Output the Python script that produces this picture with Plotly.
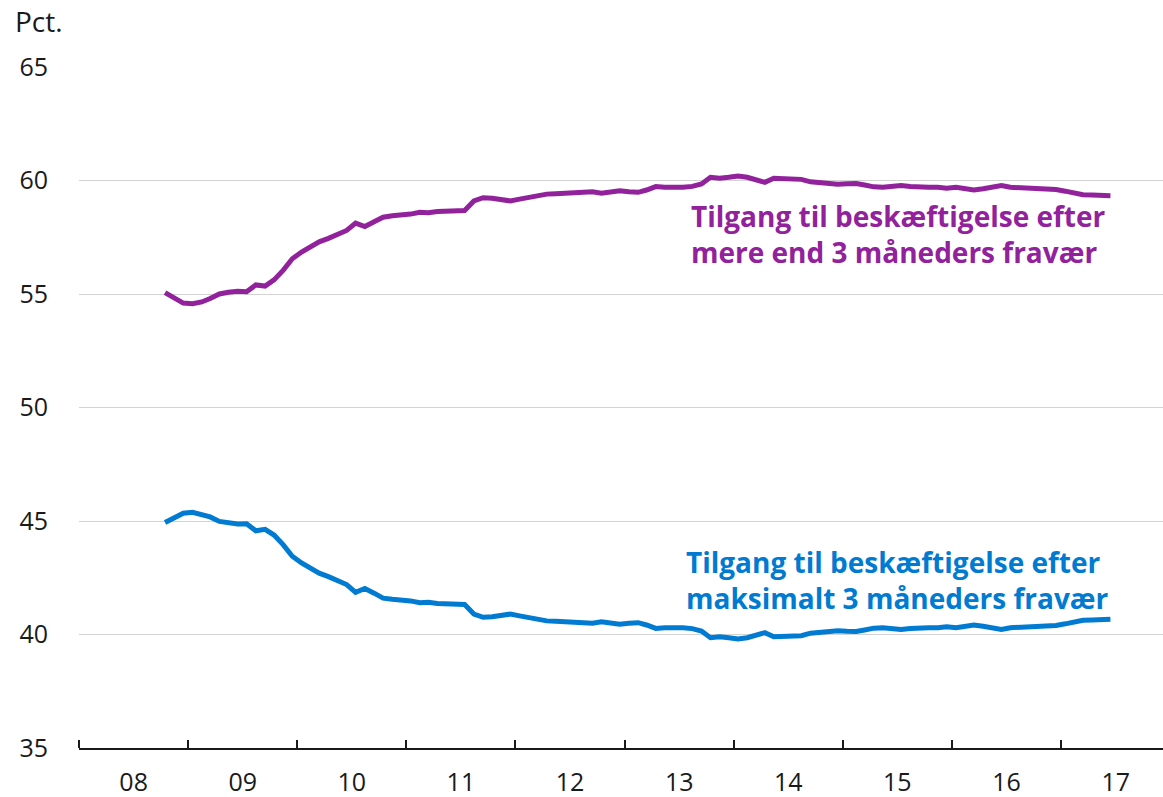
import pandas as pd
import plotly.graph_objects as go

start_month = "2008-10-01"

purple_vals = [
    55.06, 54.85, 54.60, 54.57, 54.65, 54.80, 55.00, 55.08, 55.12, 55.10,
    55.40, 55.35, 55.62, 56.05, 56.55, 56.85, 57.08, 57.30, 57.45, 57.60,
    57.80, 58.12, 57.97, 58.18, 58.38, 58.45, 58.48, 58.52, 58.60, 58.58,
    58.63, 58.65, 58.66, 58.68, 59.10, 59.24, 59.22, 59.16, 59.10, 59.18,
    59.25, 59.37, 59.40, 59.42, 59.44, 59.44, 59.45, 59.50, 59.44, 59.52,
    59.55, 59.50, 59.48, 59.58, 59.73, 59.70, 59.68, 59.70, 59.74, 59.85,
    60.14, 60.10, 60.14, 60.20, 60.14, 60.06, 59.92, 60.10, 60.08, 60.05,
    60.05, 59.94, 59.90, 59.86, 59.84, 59.86, 59.87, 59.80, 59.72, 59.70,
    59.75, 59.78, 59.74, 59.70, 59.70, 59.70, 59.66, 59.70, 59.63, 59.58,
    59.64, 59.70, 59.78, 59.70, 59.68, 59.70, 59.65, 59.62, 59.60, 59.53,
    59.45, 59.37, 59.36, 59.37, 59.33,
]

blue_vals = [
    44.93, 45.15, 45.34, 45.38, 45.30, 45.18, 44.98, 44.90, 44.87, 44.88,
    44.57, 44.63, 44.38, 43.95, 43.45, 43.15, 42.92, 42.70, 42.55, 42.40,
    42.20, 41.86, 42.03, 41.82, 41.60, 41.55, 41.52, 41.48, 41.40, 41.42,
    41.37, 41.35, 41.34, 41.32, 40.90, 40.76, 40.78, 40.84, 40.90, 40.82,
    40.75, 40.63, 40.60, 40.58, 40.56, 40.56, 40.55, 40.50, 40.56, 40.48,
    40.45, 40.50, 40.52, 40.42, 40.27, 40.30, 40.32, 40.30, 40.26, 40.15,
    39.86, 39.90, 39.86, 39.80, 39.86, 39.94, 40.08, 39.90, 39.92, 39.95,
    39.95, 40.06, 40.10, 40.14, 40.16, 40.14, 40.13, 40.20, 40.28, 40.30,
    40.25, 40.22, 40.26, 40.30, 40.30, 40.30, 40.34, 40.30, 40.37, 40.42,
    40.36, 40.30, 40.22, 40.30, 40.32, 40.30, 40.35, 40.38, 40.40, 40.47,
    40.55, 40.63, 40.64, 40.63, 40.67,
]

purple_label = "Tilgang til beskæftigelse efter<br>mere end 3 måneders fravær"
blue_label = "Tilgang til beskæftigelse efter<br>maksimalt 3 måneders fravær"
y_unit = "Pct."

dates = pd.date_range(start_month, periods=len(purple_vals), freq="MS") + pd.Timedelta(days=14)

PURPLE = "#92229c"
BLUE = "#007bd1"
FONT = "Open Sans"

fig = go.Figure()
fig.add_trace(go.Scatter(x=dates, y=purple_vals, mode="lines",
                         line=dict(color=PURPLE, width=5), showlegend=False))
fig.add_trace(go.Scatter(x=dates, y=blue_vals, mode="lines",
                         line=dict(color=BLUE, width=5), showlegend=False))

fig.add_annotation(text=purple_label, xref="paper", yref="y", x=0.5625, y=57.64,
                   xanchor="left", yanchor="middle", align="left", showarrow=False,
                   font=dict(family=FONT, size=28, color=PURPLE, weight="bold"))
fig.add_annotation(text=blue_label, xref="paper", yref="y", x=0.5585, y=42.40,
                   xanchor="left", yanchor="middle", align="left", showarrow=False,
                   font=dict(family=FONT, size=28, color=BLUE, weight="bold"))
fig.add_annotation(text=y_unit, xref="paper", yref="paper", x=0, y=1,
                   xshift=-66, yshift=46, xanchor="left", yanchor="middle",
                   showarrow=False, font=dict(family=FONT, size=28, color="#1a1a1a"))

fig.update_layout(
    width=1163, height=797,
    margin=dict(l=79, r=0, t=67, b=49),
    plot_bgcolor="white", paper_bgcolor="white",
    font=dict(family=FONT, size=25, color="#1a1a1a"),
)
fig.update_xaxes(
    range=["2008-01-01", "2017-12-08"], automargin=False,
    dtick="M12", tick0="2008-01-01", tickformat="%y", ticklabelmode="period",
    ticks="inside", ticklen=8, tickwidth=1.5, tickcolor="#1a1a1a",
    showline=True, linecolor="#1a1a1a", linewidth=1.5,
    showgrid=False, zeroline=False, ticklabelstandoff=11,
)
fig.update_yaxes(
    range=[35, 65], dtick=5, tick0=35, automargin=False,
    showgrid=True, gridcolor="#d3d3d3", gridwidth=1,
    zeroline=False, showline=False, ticks="", ticklabelstandoff=30,
)

fig.write_html(
    "out.html",
    config={"displayModeBar": False},
    post_script="document.body.style.margin='0';document.body.style.overflow='hidden';",
)
